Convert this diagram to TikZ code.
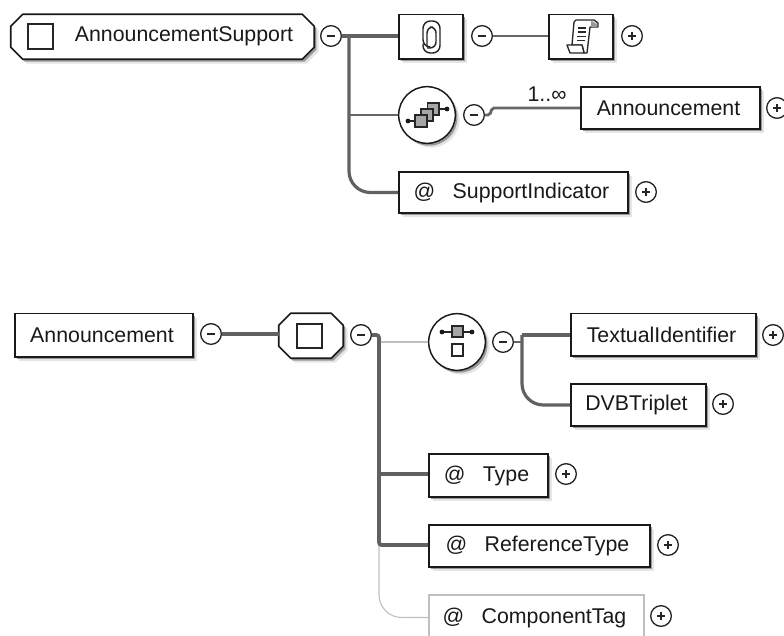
\documentclass[tikz,border=0pt]{standalone}
\usepackage{fontspec}
\setmainfont{Liberation Sans}
\usetikzlibrary{shadows}
\tikzset{
  x=0.75pt,y=-0.75pt,
  softshadow/.style={
    general shadow={fill=black!10,shadow xshift=3.2pt,shadow yshift=-3.2pt},
    general shadow={fill=black!40,shadow xshift=1.6pt,shadow yshift=-1.8pt}},
  labelfont/.style={text=black!90,font=\fontsize{16}{16}\selectfont},
  elbox/.style={rectangle,draw=black!90,fill=white,line width=1.2pt,inner sep=0pt,labelfont,softshadow},
  lightbox/.style={rectangle,draw=black!25,fill=white,line width=1pt,inner sep=0pt,labelfont},
  hexframe/.style={rectangle,inner sep=0pt},
  hexline/.style={draw=black!90,fill=white,line width=1.2pt,line join=round,softshadow},
  checkbox/.style={rectangle,draw=black!85,fill=white,line width=1.3pt,inner sep=0pt,minimum size=18.5pt},
  bubble/.style={circle,draw=black!90,fill=white,line width=1.1pt,inner sep=0pt,minimum size=42.5pt,softshadow},
  minusc/.style={circle,draw=black!85,fill=white,line width=1pt,inner sep=0pt,minimum size=15.5pt,
    path picture={\draw[line width=1.2pt,black!85] ([xshift=-3pt]path picture bounding box.center) -- ([xshift=3pt]path picture bounding box.center);}},
  plusc/.style={circle,draw=black!85,fill=white,line width=1pt,inner sep=0pt,minimum size=15.5pt,
    path picture={\draw[line width=1pt,black!85] ([xshift=-2.7pt]path picture bounding box.center) -- ([xshift=2.7pt]path picture bounding box.center) ([yshift=-2.7pt]path picture bounding box.center) -- ([yshift=2.7pt]path picture bounding box.center);}},
  conn/.style={draw=black!62,line width=2.4pt},
  connthin/.style={draw=black!60,line width=2.1pt},
  connlight/.style={draw=black!25,line width=0.8pt},
  icon/.style={draw=black!85,line width=1.1pt},
  icongray/.style={draw=black!85,fill=black!35,line width=1pt},
  iconwhite/.style={draw=black!85,fill=white,line width=1pt},
  knob/.style={circle,fill=black!90,inner sep=0pt,minimum size=3.6pt},
}
\newcommand{\placebox}[7]{\node[#1,minimum width={(#5-#3)*0.75pt},minimum height={(#6-#4)*0.75pt}] (#2) at ({(#3+#5)/2},{(#4+#6)/2}) {#7};}
\newcommand{\hexpath}[1]{\draw[hexline] ([xshift=9pt]#1.north west) -- ([xshift=-9pt]#1.north east) -- ([yshift=-9pt]#1.north east) -- ([yshift=9pt]#1.south east) -- ([xshift=-9pt]#1.south east) -- ([xshift=9pt]#1.south west) -- ([yshift=9pt]#1.south west) -- ([yshift=-9pt]#1.north west) -- cycle;}
\newcommand{\atsign}[1]{@\hspace{13pt}#1\kern3pt}
\newcommand{\lefted}[1]{#1\kern3pt}
\begin{document}
\begin{tikzpicture}
\useasboundingbox (0,0) rectangle (784,635);
\clip (0,0) rectangle (784,635);

% ---- top diagram: nodes
\placebox{hexframe}{support}{11}{14.5}{314}{59}{}
\hexpath{support}
\node[checkbox] (supportcheck) at (40.5,36.5) {};
\node[labelfont] (supporttext) at (184,36) {AnnouncementSupport};
\node[minusc] (m1) at (331,36) {};
\placebox{elbox}{clipbox}{399}{14.5}{463}{59}{}
\node[minusc] (m2) at (482,36) {};
\placebox{elbox}{scrollbox}{549}{14.5}{613}{59}{}
\node[plusc] (p1) at (632,36) {};
\node[bubble] (seq) at (427,115) {};
\node[minusc] (m3) at (474,115) {};
\placebox{elbox}{annref}{581}{87}{760}{129}{\lefted{Announcement}}
\node[plusc] (p2) at (777,108) {};
\placebox{elbox}{supind}{399}{172}{628}{213}{\atsign{SupportIndicator}}
\node[plusc] (p3) at (646,192) {};
\node[labelfont,inner sep=0pt] (mult) at (547,94) {1..∞};

% ---- top diagram: connectors
\coordinate (t1) at (349,36);
\coordinate (t1b) at (349,115);
\draw[conn] (m1.east) -- (m1.east -| clipbox.west);
\draw[conn,rounded corners=16pt] (t1) |- (supind.west);
\draw[connthin] (t1b) -- (seq.west);
\draw[connthin] (m2.east) -- (m2.east -| scrollbox.west);
\coordinate (s1) at (490,115);
\coordinate (s2) at (492,108);
\draw[connthin,rounded corners=1.5pt] (m3.east) -- (s1) -- (s2) -- (annref.west);

% ---- top icons
\draw[icon,rounded corners=4.5pt] (427,47) -- (427,27) -- (436,27) -- (436,48) -- (427,48);
\draw[icon,rounded corners=5.5pt] (427,47) -- (423,47) -- (423,21) -- (440,21) -- (440,53) -- (423,53) -- (423,44);
\draw[iconwhite,line join=round] (576,20) -- (594,20) -- (598,23) -- (598,27) -- (590,27) -- (587,53) -- (584,53) -- (582,45) -- (572,45) -- (574,22) -- cycle;
\draw[iconwhite,line join=round] (567,45) -- (582,45) -- (584,53) -- (570,53) -- cycle;
\fill[black!40] (591,20.5) -- (597,24) -- (597,27) -- (591,27) -- cycle;
\draw[icon] (577.5,28) -- (586,28) (577.5,32) -- (586,32) (577,36.5) -- (585.5,36.5) (577,40.5) -- (585,40.5);

\draw[icon] (408,121) -- (415,121) (439,109) -- (447,109);
\node[knob] (seqdotl) at (408,121) {};
\node[knob] (seqdotr) at (447,109) {};
\draw[icongray] (427.5,103) rectangle (439,115);
\draw[icongray] (421,109) rectangle (433,121);
\draw[icongray] (415,115) rectangle (427,127);

% ---- bottom diagram: nodes
\placebox{elbox}{annbox}{15}{313.5}{193}{357}{\lefted{Announcement}}
\node[minusc] (m4) at (211,334) {};
\placebox{hexframe}{seqhex}{279}{313.5}{343}{358}{}
\hexpath{seqhex}
\node[checkbox] (seqcheck) at (309.5,336) {};
\node[minusc] (m5) at (361,335) {};
\node[bubble] (choice) at (457,342) {};
\node[minusc] (m6) at (503,342) {};
\placebox{elbox}{textid}{571}{313.5}{756}{356}{\lefted{TextualIdentifier}}
\node[plusc] (p4) at (773,335) {};
\placebox{elbox}{dvb}{571}{384}{706}{426}{\lefted{DVBTriplet}}
\node[plusc] (p5) at (723,404) {};
\placebox{elbox}{typebox}{429}{454}{548}{497}{\atsign{Type}}
\node[plusc] (p6) at (566,474) {};
\placebox{elbox}{reftype}{429}{525}{650}{567}{\atsign{ReferenceType}}
\node[plusc] (p7) at (668,545) {};
\placebox{lightbox}{comptag}{429}{595}{644}{640}{\atsign{ComponentTag}}
\node[plusc] (p8) at (661,616) {};

% ---- bottom diagram: connectors
\coordinate (t2) at (379,335);
\coordinate (t2a) at (379,474);
\coordinate (t2b) at (379,545);
\coordinate (t2l) at (380,342);
\coordinate (c1) at (522,342);
\coordinate (c0) at (522,335);
\draw[conn] (m4.east) -- (m4.east -| seqhex.west);
\draw[connlight] (t2l) -- (choice.west);
\draw[connlight,rounded corners=17pt] (t2b) |- (comptag.west);
\draw[conn,line width=2.8pt,rounded corners=2pt] (m5.east) -- (t2) -- (t2b) -- (t2b -| reftype.west);
\draw[conn] (t2a) -- (t2a -| typebox.west);
\draw[connthin] (m6.east) -- (c1);
\draw[conn,line join=round] (c0) -- (c0 -| textid.west);
\draw[conn,rounded corners=16pt] (c0) |- (dvb.west);

% ---- choice icon
\draw[icon] (442,332) -- (472,332);
\node[knob] (chdotl) at (442,332) {};
\node[knob] (chdotr) at (472,332) {};
\draw[icongray] (452,326) rectangle (463,337);
\draw[iconwhite] (452,344) rectangle (463,356);
\end{tikzpicture}
\end{document}
